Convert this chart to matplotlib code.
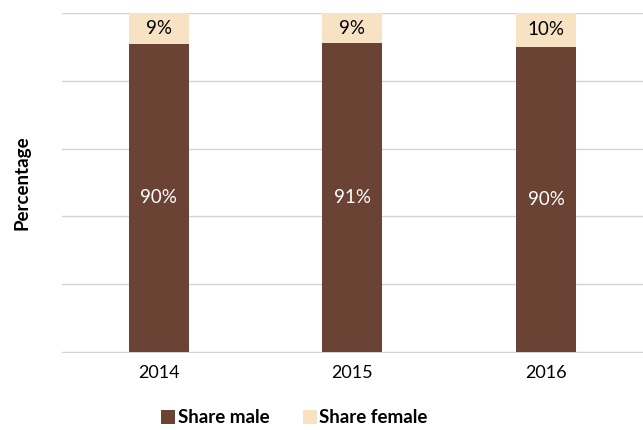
import matplotlib.pyplot as plt
import numpy as np

years = ["2014", "2015", "2016"]
share_male = [90, 91, 90]
share_female = [9, 9, 10]

plt.rcParams['font.family'] = ['Lato', 'DejaVu Sans']

male_col = '#6B4335'
female_col = '#F7E2C4'

fig = plt.figure(figsize=(6.43, 4.30), dpi=100)
ax = fig.add_axes([0.096, 0.181, 0.904, 0.789])

# 100% stacked: each year's bar is scaled to fill the axis
male = np.array(share_male, dtype=float)
female = np.array(share_female, dtype=float)
total = male + female
male_pct = male / total * 100
female_pct = female / total * 100

x = np.arange(len(years))
w = 0.31
b1 = ax.bar(x, male_pct, w, color=male_col, label='Share male', zorder=3)
b2 = ax.bar(x, female_pct, w, bottom=male_pct, color=female_col, label='Share female', zorder=3)

for i in range(len(years)):
    ax.text(x[i], male_pct[i] / 2, f"{share_male[i]}%", ha='center', va='center',
            color='white', fontsize=13.5, zorder=4)
    ax.text(x[i], male_pct[i] + female_pct[i] / 2, f"{share_female[i]}%", ha='center',
            va='center', color='black', fontsize=13.5, zorder=4)

ax.set_xlim(-0.5, 2.5)
ax.set_ylim(0, 100)
ax.set_yticks(np.arange(0, 101, 20))
ax.set_yticklabels([])
ax.yaxis.grid(True, color='#D4D4D4', linewidth=1)
ax.tick_params(axis='y', length=0)
ax.set_xticks(x)
ax.set_xticklabels(years, fontsize=13)
ax.tick_params(axis='x', length=0, pad=9)
for s in ['top', 'right', 'left']:
    ax.spines[s].set_visible(False)
ax.spines['bottom'].set_color('#D4D4D4')

fig.text(0.034, 0.574, 'Percentage', rotation=90, ha='center', va='center',
         fontsize=13.5, fontweight='bold')

fig.legend(handles=[b1, b2], loc='center', bbox_to_anchor=(0.458, 0.028), ncol=2,
           frameon=False, prop={'size': 13.5, 'weight': 'bold'},
           handlelength=0.75, handleheight=0.75, columnspacing=1.75, handletextpad=0.15)

fig.savefig('out.png', dpi=100)
